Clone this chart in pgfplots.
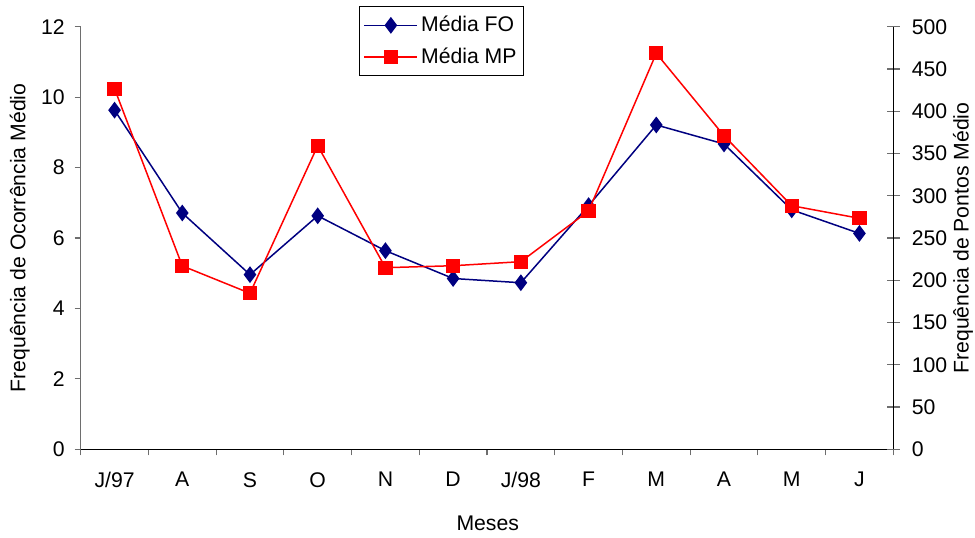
\documentclass[border=0pt]{standalone}
\usepackage{pgfplots}
\pgfplotsset{compat=1.18}
\usepackage{fontspec}
\setmainfont{Liberation Sans}
\definecolor{fo}{RGB}{0,0,128}
\definecolor{mp}{RGB}{255,0,0}
\definecolor{axgray}{RGB}{110,110,110}
\begin{document}
\begin{tikzpicture}[font=\fontsize{10.6}{12}\selectfont]
\path[use as bounding box] (0,0) rectangle (487.5pt,268.5pt);
\begin{axis}[
  at={(40.35pt,43.85pt)}, anchor=south west,
  scale only axis, width=406.3pt, height=211.3pt,
  xmin=-0.5, xmax=11.5, ymin=0, ymax=12,
  axis x line*=bottom, axis y line*=left,
  x axis line style={black, line width=0.6pt},
  y axis line style={axgray, line width=0.6pt},
  xtick={0,...,11},
  xticklabels={J/97,A,S,O,N,D,J/98,F,M,A,M,J},
  minor xtick={-0.5,0.5,...,11.5},
  major x tick style={draw=none},
  minor tick length=3pt,
  ytick={0,2,...,12},
  major tick length=3pt,
  tick align=outside,
  tick style={axgray, line width=0.6pt},
  /pgf/number format/assume math mode=true,
  xticklabel style={anchor=north, yshift=-5pt},
  yticklabel style={anchor=east, xshift=-1.5pt},
  xlabel={Meses},
  ylabel={Frequência de Ocorrência Médio},
  xlabel style={at={(axis description cs:0.5009,-0.174)}, anchor=center},
  ylabel style={at={(axis description cs:-0.075,0.5)}, anchor=center, rotate=0},
  clip=false,
]
\addplot[color=fo, line width=0.75pt, mark=diamond*, mark size=3.6pt, mark options={fill=fo, draw=fo}]
  coordinates {(0,9.63)(1,6.71)(2,4.96)(3,6.63)(4,5.64)(5,4.85)(6,4.73)(7,6.92)(8,9.21)(9,8.67)(10,6.80)(11,6.13)};
\end{axis}
\begin{axis}[
  at={(40.35pt,43.85pt)}, anchor=south west,
  scale only axis, width=406.3pt, height=211.3pt,
  xmin=-0.5, xmax=11.5, ymin=0, ymax=500,
  axis x line=none, axis y line*=right,
  y axis line style={black, line width=0.6pt},
  ytick={0,50,...,500},
  major tick length=6.5pt,
  tick align=center,
  tick style={axgray, line width=0.6pt},
  /pgf/number format/assume math mode=true,
  yticklabel style={anchor=west, xshift=2.5pt},
  ylabel={Frequência de Pontos Médio},
  ylabel style={at={(axis description cs:1.0858,0.5)}, anchor=center, rotate=0},
  clip=false,
  legend style={at={(axis description cs:0.3425,1.049)}, anchor=north west,
    draw=black, line width=0.6pt, fill=white, inner xsep=2pt, inner ysep=3.2pt, row sep=3.5pt,
    nodes={font=\fontsize{10.6}{12}\selectfont, inner sep=1.5pt}},
  legend cell align=left,
  legend image code/.code={
    \draw[#1, mark repeat=2, mark phase=2] plot coordinates {(0pt,0pt)(13.25pt,0pt)(26.5pt,0pt)};
  },
]
\addlegendimage{color=fo, line width=0.75pt, mark=diamond*, mark size=3.6pt, mark options={fill=fo, draw=fo}}
\addlegendentry{Média FO}
\addplot[color=mp, line width=0.75pt, mark=square*, mark size=3.2pt, mark options={fill=mp, draw=mp}]
  coordinates {(0,426.6)(1,217)(2,184.6)(3,359.2)(4,214.9)(5,217.2)(6,222)(7,282)(8,468.5)(9,371)(10,288.2)(11,273.3)};
\addlegendentry{Média MP}
\end{axis}
\end{tikzpicture}
\end{document}
